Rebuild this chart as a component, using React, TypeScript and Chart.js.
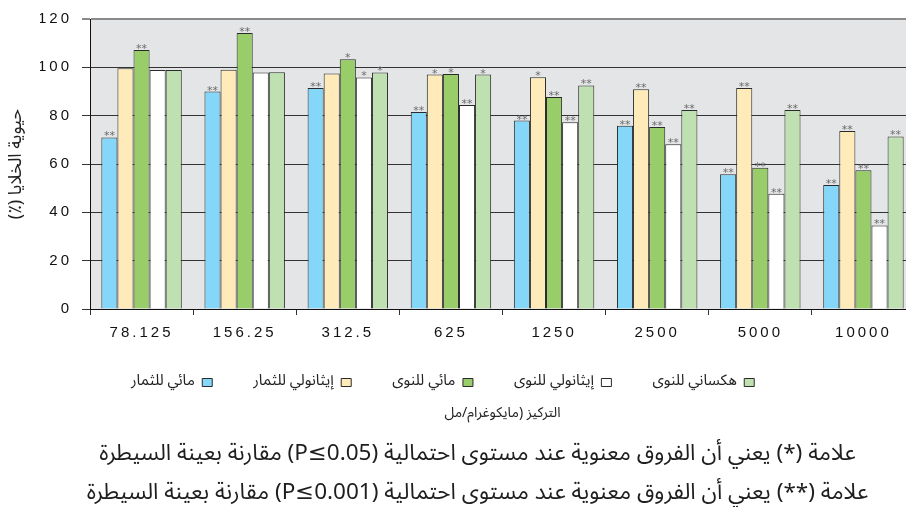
import React, { useEffect, useRef } from 'react';
import { Chart, registerables } from 'chart.js';

Chart.register(...registerables);

const categories = ['78.125', '156.25', '312.5', '625', '1250', '2500', '5000', '10000'];
const seriesNames = ['مائي للثمار', 'إيثانولي للثمار', 'مائي للنوى', 'إيثانولي للنوى', 'هكساني للنوى'];
const aqueousFruit = [71, 90, 91.5, 81.5, 78, 75.8, 55.8, 51.3];
const ethanolFruit = [99.6, 99, 97.4, 97, 95.9, 90.9, 91.4, 73.7];
const aqueousSeed = [107.2, 114.2, 103.3, 97.2, 87.7, 75.3, 58.5, 57.4];
const ethanolSeed = [98.9, 97.9, 95.8, 84.4, 77.3, 68.2, 47.7, 34.6];
const hexaneSeed = [98.9, 98, 97.9, 97, 92.5, 82.3, 82.3, 71.4];
const sigAqueousFruit = ['**', '**', '**', '**', '**', '**', '**', '**'];
const sigEthanolFruit = ['', '', '', '*', '*', '**', '**', '**'];
const sigAqueousSeed = ['**', '**', '*', '*', '**', '**', '**', '**'];
const sigEthanolSeed = ['', '', '*', '**', '**', '**', '**', '**'];
const sigHexaneSeed = ['', '', '*', '*', '**', '**', '**', '**'];
const yTicks = [0, 20, 40, 60, 80, 100, 120];
const yTitle = 'حيوية الخلايا (٪)';
const xTitle = 'التركيز (مايكوغرام/مل';
const notes = [
  'علامة (*) يعني أن الفروق معنوية عند مستوى احتمالية (P≤0.05) مقارنة بعينة السيطرة',
  'علامة (**) يعني أن الفروق معنوية عند مستوى احتمالية (P≤0.001) مقارنة بعينة السيطرة',
];

const seriesValues = [aqueousFruit, ethanolFruit, aqueousSeed, ethanolSeed, hexaneSeed];
const seriesSigs = [sigAqueousFruit, sigEthanolFruit, sigAqueousSeed, sigEthanolSeed, sigHexaneSeed];
const seriesColors = ['#84d7f8', '#ffebba', '#98cd69', '#ffffff', '#bfe0b1'];

const arabicFont = '"Noto Sans Arabic", "DejaVu Sans", sans-serif';
const numFont = '"Liberation Sans", Arial, sans-serif';

const plotBg = {
  id: 'plotBg',
  beforeDraw(chart: any) {
    const { ctx, chartArea } = chart;
    if (!chartArea) return;
    ctx.save();
    ctx.fillStyle = '#e4e5e7';
    ctx.fillRect(chartArea.left, chartArea.top, chartArea.right - chartArea.left, chartArea.bottom - chartArea.top);
    ctx.restore();
  },
};

const sigMarks = {
  id: 'sigMarks',
  afterDatasetsDraw(chart: any) {
    const ctx = chart.ctx;
    ctx.save();
    ctx.font = '11px "DejaVu Sans", sans-serif';
    ctx.fillStyle = '#6a6a6a';
    ctx.textAlign = 'center';
    ctx.textBaseline = 'alphabetic';
    chart.data.datasets.forEach((_ds: any, i: number) => {
      const meta = chart.getDatasetMeta(i);
      meta.data.forEach((bar: any, j: number) => {
        const s = seriesSigs[i][j];
        if (s) ctx.fillText(s, bar.x, bar.y + 2);
      });
    });
    ctx.restore();
    ctx.letterSpacing = '3px';
  },
  afterDraw(chart: any) {
    chart.ctx.letterSpacing = '0px';
  },
};

export default function App() {
  const ref = useRef<HTMLCanvasElement | null>(null);
  useEffect(() => {
    if (!ref.current) return;
    const chart = new Chart(ref.current, {
      type: 'bar',
      data: {
        labels: categories,
        datasets: seriesNames.map((name, i) => ({
          label: name,
          data: seriesValues[i],
          backgroundColor: seriesColors[i],
          borderColor: '#2a2a2a',
          borderWidth: 1,
          categoryPercentage: 0.78,
          barPercentage: 1,
        })),
      },
      options: {
        animation: false,
        responsive: true,
        maintainAspectRatio: false,
        layout: { padding: { left: 40, right: 0, top: 12, bottom: 0 } },
        scales: {
          x: {
            ticks: { color: '#111', font: { family: numFont, size: 15 }, padding: 9, z: 1 },
            grid: { display: true, drawOnChartArea: false, offset: true, tickLength: 6, color: '#333' },
            border: { color: '#111', width: 1 },
            afterFit(scale: any) { scale.height = 35; },
          },
          y: {
            min: 0,
            max: 120,
            afterBuildTicks(scale: any) { scale.ticks = yTicks.map((v) => ({ value: v })); },
            ticks: { color: '#111', font: { family: numFont, size: 15 }, padding: 10, z: 1 },
            grid: {
              color: (c: any) => (c.tick && c.tick.value === 120 ? '#8a8a8a' : '#333'),
              lineWidth: (c: any) => (c.tick && c.tick.value === 120 ? 2 : 1),
              tickLength: 8,
            },
            border: { color: '#111', width: 1 },
            title: {
              display: true,
              text: yTitle,
              color: '#222',
              font: { family: arabicFont, size: 18 },
              padding: { top: -32.8, bottom: 0 },
            },
            afterFit(scale: any) { scale.width = 50; },
          },
        },
        plugins: {
          legend: {
            position: 'bottom',
            fullSize: false,
            align: 'end',
            reverse: true,
            rtl: true,
            textDirection: 'rtl',
            title: { display: true, text: '', padding: { top: -24.4, bottom: 0 } },
            labels: {
              boxWidth: 10,
              boxHeight: 8,
              padding: 41,
              color: '#222',
              font: { family: arabicFont, size: 15 },
            },
          },
          subtitle: {
            display: true,
            position: 'bottom',
            fullSize: false,
            text: xTitle,
            color: '#222',
            font: { family: arabicFont, size: 14 },
            padding: { top: 6.6, bottom: 13.6 },
          },
          title: {
            display: true,
            position: 'bottom',
            text: notes,
            color: '#1e1e1e',
            font: { family: arabicFont, size: 22.5, weight: 'normal', lineHeight: 39 / 22.5 },
            padding: { top: 0, bottom: -8 },
          },
          tooltip: { enabled: false },
        },
      },
      plugins: [plotBg, sigMarks],
    } as any);
    return () => chart.destroy();
  }, []);

  return (
    <div style={{ position: 'absolute', left: 0, top: 0, width: 906, height: 507, overflow: 'hidden', background: '#fff' }}>
      <div style={{ position: 'relative', width: 915, height: 507 }}>
        <canvas ref={ref} style={{ direction: 'rtl' }} />
      </div>
    </div>
  );
}
